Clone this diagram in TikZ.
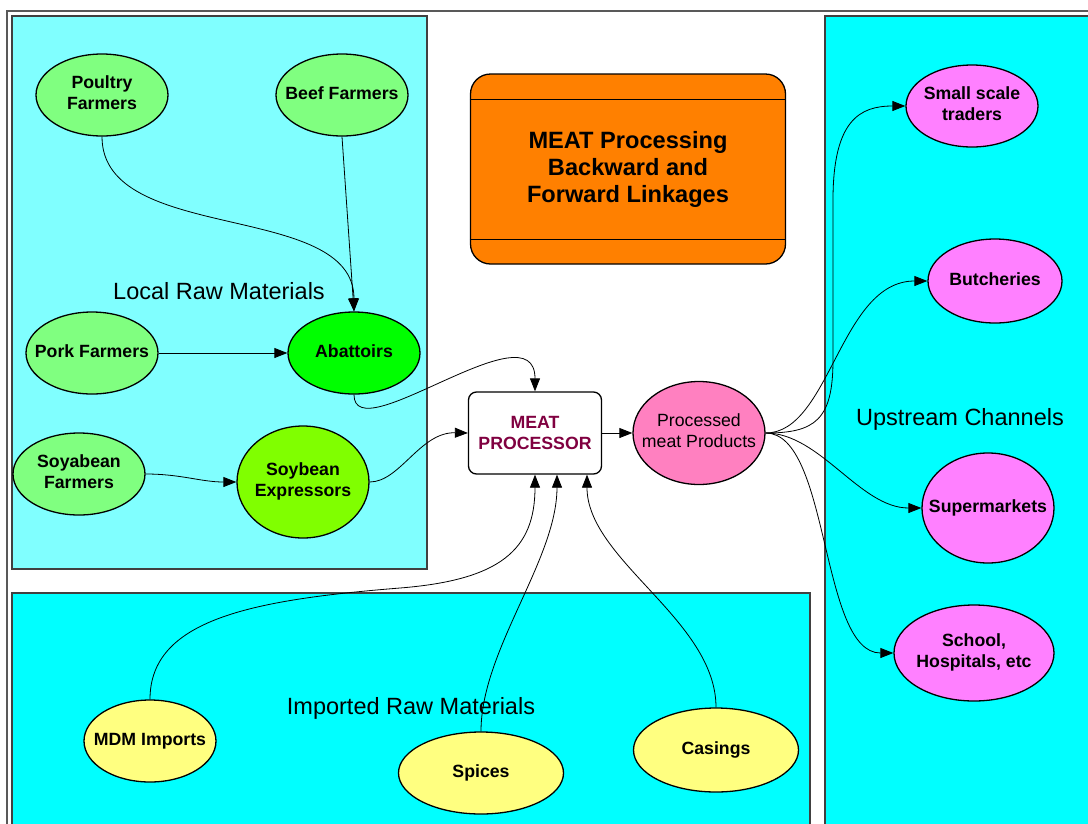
\documentclass[tikz,border=0pt]{standalone}
\usepackage{fontspec}
\setmainfont{Liberation Sans}
\usepackage{xcolor}
\usetikzlibrary{shapes,arrows.meta,positioning}

\definecolor{farmgreen}{HTML}{80FF80}
\definecolor{abattoirgreen}{HTML}{00FF00}
\definecolor{expressgreen}{HTML}{80FF00}
\definecolor{outletpink}{HTML}{FF80FF}
\definecolor{productpink}{HTML}{FF80C0}
\definecolor{importyellow}{HTML}{FFFF80}
\definecolor{localcyan}{HTML}{80FFFF}
\definecolor{channelcyan}{HTML}{00FFFF}
\definecolor{titleorange}{HTML}{FF8000}
\definecolor{procred}{HTML}{800040}

\newcommand{\bubblefont}{\fontsize{17.7}{20.4}\selectfont}
\newcommand{\clusterfont}{\fontsize{23.5}{27}\selectfont}
% zero-width label so the ellipse keeps its minimum size
\newcommand{\bubbletext}[1]{\makebox[0pt]{\begin{tabular}{@{}c@{}}#1\end{tabular}}}

\tikzset{
  supplier/.style={ellipse, draw, line width=1.3pt, minimum width=132pt, minimum height=82pt,
                   inner sep=0pt, align=center, font=\bubblefont\bfseries},
  link/.style={line width=0.8pt, -{Triangle[length=13pt,width=10pt]}},
  cluster/.style={draw=black!75, line width=1.5pt}
}

\begin{document}
\begin{tikzpicture}[x=1pt, y=-1pt]
    \useasboundingbox (0,0) rectangle (1088,823);
    \clip (0,0) rectangle (1088,823);
    \fill[white] (0,0) rectangle (1088,823);

    % Frame and clusters
    \draw[black!65, line width=1.5pt] (7,840) -- (7,11) -- (1100,11);
    \draw[cluster, fill=localcyan] (12,16) rectangle (427,569);
    \draw[cluster, fill=channelcyan] (825,16) rectangle (1100,840);
    \draw[cluster, fill=channelcyan] (12,593) rectangle (810,840);

    \node[font=\clusterfont] (localtitle) at (219,291) {Local Raw Materials};
    \node[font=\clusterfont] (importtitle) at (411,708) {Imported Raw Materials};
    \node[font=\clusterfont] (channeltitle) at (960,419) {Upstream Channels};

    % Title
    \node[draw, line width=1.3pt, rounded corners=20pt, fill=titleorange, minimum width=315pt,
          minimum height=190pt, align=center, font={\fontsize{23.6}{27}\selectfont\bfseries}]
          (title) at (628,169) {MEAT Processing\\Backward and\\Forward Linkages};
    \draw[line width=0.8pt] (title.west |- 0,99) -- (title.east |- 0,99);
    \draw[line width=0.8pt] (title.west |- 0,239) -- (title.east |- 0,239);

    % Local raw materials
    \node[supplier, fill=farmgreen] (poultry) at (102,95) {\bubbletext{Poultry\\Farmers}};
    \node[supplier, fill=farmgreen] (beef) at (342,95) {\bubbletext{Beef Farmers}};
    \node[supplier, fill=farmgreen] (pork) at (92,353) {\bubbletext{Pork Farmers}};
    \node[supplier, fill=abattoirgreen] (abattoirs) at (354,353) {\bubbletext{Abattoirs}};
    \node[supplier, fill=farmgreen] (soyfarmers) at (79,474) {\bubbletext{Soyabean\\Farmers}};
    \node[supplier, fill=expressgreen, minimum height=112pt] (expressors) at (303,482) {\bubbletext{Soybean\\Expressors}};

    % Processor and product
    \node[draw, line width=1.3pt, rounded corners=8pt, fill=white, minimum width=133pt,
          minimum height=82pt, align=center, font=\bubblefont\bfseries, text=procred]
          (processor) at (535,433) {MEAT\\PROCESSOR};
    \node[supplier, fill=productpink, minimum height=103pt, font=\bubblefont] (products) at (699,433) {\bubbletext{Processed\\meat Products}};

    % Channels
    \node[supplier, fill=outletpink] (traders) at (972,106) {\bubbletext{Small scale\\traders}};
    \node[supplier, fill=outletpink, minimum width=134pt, minimum height=84pt] (butcheries) at (995,281) {\bubbletext{Butcheries}};
    \node[supplier, fill=outletpink, minimum height=110pt] (supermarkets) at (988,508) {\bubbletext{Supermarkets}};
    \node[supplier, fill=outletpink, minimum width=160pt, minimum height=96pt] (schools) at (974,653) {\bubbletext{School,\\Hospitals, etc}};

    % Imported raw materials
    \node[supplier, fill=importyellow] (mdm) at (150,741) {\bubbletext{MDM Imports}};
    \node[supplier, fill=importyellow, minimum width=165pt] (spices) at (481,773) {\bubbletext{Spices}};
    \node[supplier, fill=importyellow, minimum width=165pt, minimum height=84pt] (casings) at (716,750) {\bubbletext{Casings}};

    % Local supply
    \draw[link] (poultry.south) .. controls (102,245) and (354,200) .. (abattoirs.north);
    \draw[link] (beef.south) -- (abattoirs.north);
    \draw[link] (pork) -- (abattoirs);
    \draw[link] (soyfarmers.east) to[out=0, in=180] (expressors.west);
    \draw[link] (abattoirs.south) .. controls (354,452) and (535,305) .. (processor.north);
    \draw[link] (expressors.east) .. controls (400,482) and (420,432) .. (processor.west);

    % Imports
    \draw[link] (mdm.north) .. controls (150,620) and (250,600) .. (400,588)
                .. controls (500,580) and (535,550) .. (processor.south);
    \draw[link] (spices.north) .. controls (481,650) and (557,560) .. ([xshift=22pt]processor.south);
    \draw[link] (casings.north) .. controls (716,620) and (587,560) .. ([xshift=52pt]processor.south);

    % Outlets
    \draw[link] (processor) -- (products);
    \draw[link] (products.east) .. controls (815,433) and (833,420) .. (833,360) -- (833,200)
                .. controls (833,120) and (860,106) .. (traders.west);
    \draw[link] (products.east) .. controls (830,433) and (840,281) .. (butcheries.west);
    \draw[link] (products.east) .. controls (820,433) and (860,508) .. (supermarkets.west);
    \draw[link] (products.east) .. controls (830,433) and (820,653) .. (schools.west);
\end{tikzpicture}
\end{document}
